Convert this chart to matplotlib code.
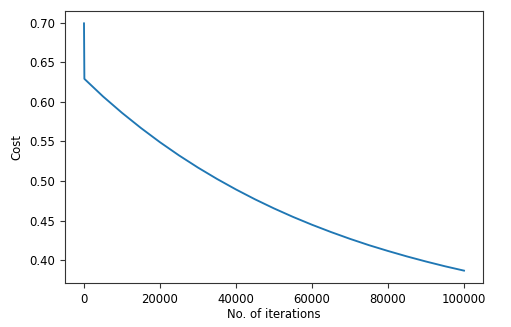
import matplotlib
matplotlib.use('Agg')
import matplotlib.pyplot as plt

# cost vs iterations
iterations = [0, 100, 5000, 10000, 15000, 20000, 25000, 30000, 35000, 40000, 45000,
              50000, 55000, 60000, 65000, 70000, 75000, 80000, 85000, 90000, 95000, 100000]
cost = [0.699, 0.629, 0.6068, 0.5861, 0.5669, 0.5490, 0.5324, 0.5170, 0.5027, 0.4894, 0.4770,
        0.4655, 0.4548, 0.4449, 0.4357, 0.4271, 0.4191, 0.4118, 0.4049, 0.3985, 0.3925, 0.3870]

x_ticks = [0, 20000, 40000, 60000, 80000, 100000]
y_ticks = [0.40, 0.45, 0.50, 0.55, 0.60, 0.65, 0.70]

fig = plt.figure(figsize=(5.11, 3.27), dpi=100)
ax = fig.add_axes([65 / 511, 44 / 327, 418 / 511, 272 / 327])

ax.plot(iterations, cost, color='#1f77b4', linewidth=1.35)
ax.set_xticks(x_ticks)
ax.set_yticks(y_ticks)
ax.set_xticklabels([str(t) for t in x_ticks])
ax.set_yticklabels(['%.2f' % t for t in y_ticks])
ax.tick_params(labelsize=8.4, colors='#333333', labelcolor='black')
for s in ax.spines.values():
    s.set_color('#333333')
ax.set_xlabel("No. of iterations", fontsize=8.4, labelpad=2)
ax.set_ylabel("Cost", fontsize=8.4)

fig.savefig('out.png', dpi=100)
